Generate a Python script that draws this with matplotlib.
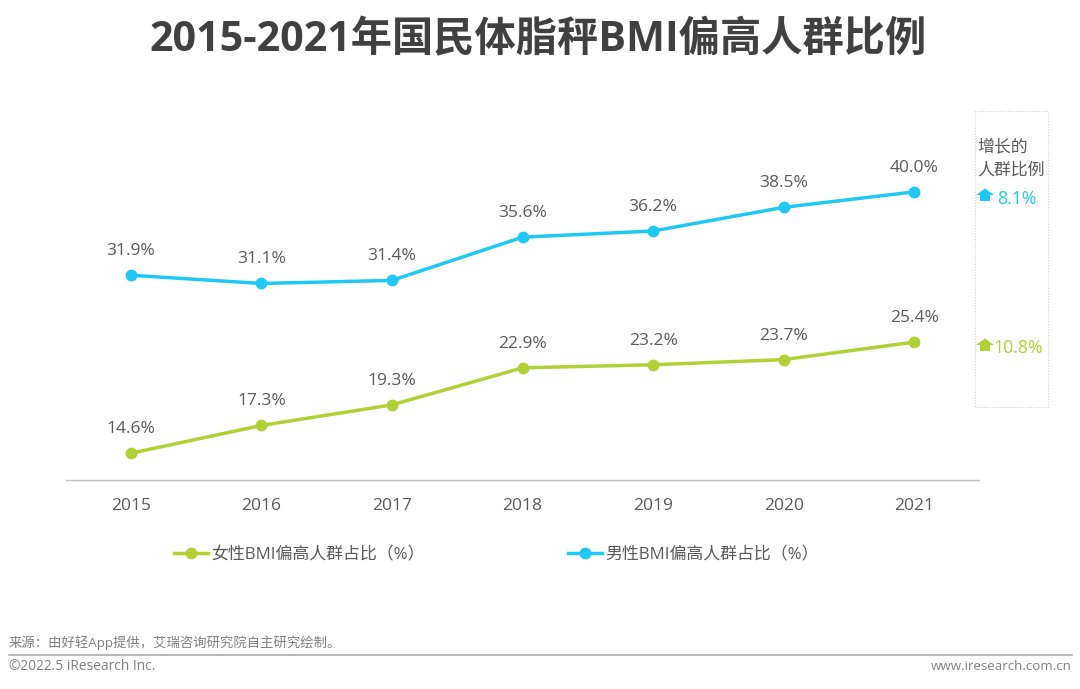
import matplotlib
matplotlib.use('Agg')
import matplotlib.pyplot as plt
from matplotlib.patches import Polygon, Rectangle
from matplotlib.lines import Line2D

plt.rcParams['font.family'] = ['Open Sans', 'Noto Sans CJK SC', 'DejaVu Sans']

years = ['2015', '2016', '2017', '2018', '2019', '2020', '2021']
male = [31.9, 31.1, 31.4, 35.6, 36.2, 38.5, 40.0]
female = [14.6, 17.3, 19.3, 22.9, 23.2, 23.7, 25.4]
male_name = '男性BMI偏高人群占比（%）'
female_name = '女性BMI偏高人群占比（%）'
male_growth = '8.1%'
female_growth = '10.8%'

BLUE = '#1FC8F3'
GREEN = '#AFD135'
TEXT = '#595959'
W, H = 1080, 689

fig = plt.figure(figsize=(W / 100, H / 100), dpi=100)


def fx(x):
    return x / W


def fy(y):
    return 1 - y / H


# axes box in pixels: x 65.5-979.5, y 89-480
ax = fig.add_axes([fx(65.5), fy(480), fx(914), 391 / H])
xs = list(range(len(years)))
ax.plot(xs, male, color=BLUE, lw=2.5, marker='o', ms=7.5, clip_on=False)
ax.plot(xs, female, color=GREEN, lw=2.5, marker='o', ms=7.5, clip_on=False)
ax.set_xlim(-0.5, 6.5)
ax.set_ylim(12, 50)
ax.set_xticks(xs, years, fontsize=12.5, color=TEXT)
ax.tick_params(axis='x', length=0, pad=13)
ax.set_yticks([])
for s in ['top', 'left', 'right']:
    ax.spines[s].set_visible(False)
ax.spines['bottom'].set_color('#BFBFBF')
ax.spines['bottom'].set_linewidth(1)

for series in (male, female):
    for x, v in zip(xs, series):
        ax.annotate(f'{v:.1f}%', (x, v), xytext=(0, 11.5), textcoords='offset points',
                    ha='center', va='bottom', fontsize=12.5, color=TEXT)

# title
fig.text(fx(538), fy(41), '2015-2021年国民体脂秤BMI偏高人群比例', ha='center', va='center',
         fontsize=29.7, fontweight='bold', color='#404040')

# legend
for x0, col, name in ((174, GREEN, female_name), (568, BLUE, male_name)):
    fig.add_artist(Line2D([fx(x0), fx(x0 + 34)], [fy(553), fy(553)], color=col, lw=2.5))
    fig.add_artist(Line2D([fx(x0 + 17)], [fy(553)], color=col, marker='o', ms=7.5))
    fig.text(fx(x0 + 37), fy(555), name, ha='left', va='center', fontsize=12.2, color=TEXT)

# growth box on the right
fig.add_artist(Rectangle((fx(975), fy(407)), fx(73), 296 / H, fill=False, ec='#D0D0D0',
                         lw=0.8, ls=(0, (1, 1.5))))
fig.text(fx(977), fy(147), '增长的', ha='left', va='center', fontsize=12.2, color=TEXT)
fig.text(fx(977), fy(171), '人群比例', ha='left', va='center', fontsize=12.2, color=TEXT)


def up_arrow(x, y, col):
    pts = [(x, y - 6.5), (x + 9, y), (x + 5, y), (x + 5, y + 6), (x - 5, y + 6), (x - 5, y), (x - 9, y)]
    fig.add_artist(Polygon([(fx(a), fy(b)) for a, b in pts], closed=True, fc=col, ec='none'))


up_arrow(985, 195, BLUE)
up_arrow(985, 345, GREEN)
fig.text(fx(997), fy(199), male_growth, ha='left', va='center', fontsize=12.8, color=BLUE)
fig.text(fx(993), fy(348), female_growth, ha='left', va='center', fontsize=12.8, color=GREEN)

# footer
fig.text(fx(9), fy(643), '来源：由好轻App提供，艾瑞咨询研究院自主研究绘制。', ha='left', va='center',
         fontsize=9.6, color='#7F7F7F')
fig.add_artist(Line2D([fx(9), fx(1072)], [fy(654.5), fy(654.5)], color='#A6A6A6', lw=1.1))
fig.text(fx(9), fy(666.5), '©2022.5 iResearch Inc.', ha='left', va='center', fontsize=9.9, color='#7F7F7F')
fig.text(fx(1072), fy(666.5), 'www.iresearch.com.cn', ha='right', va='center', fontsize=9.6, color='#7F7F7F')

fig.savefig('out.png', dpi=100)
